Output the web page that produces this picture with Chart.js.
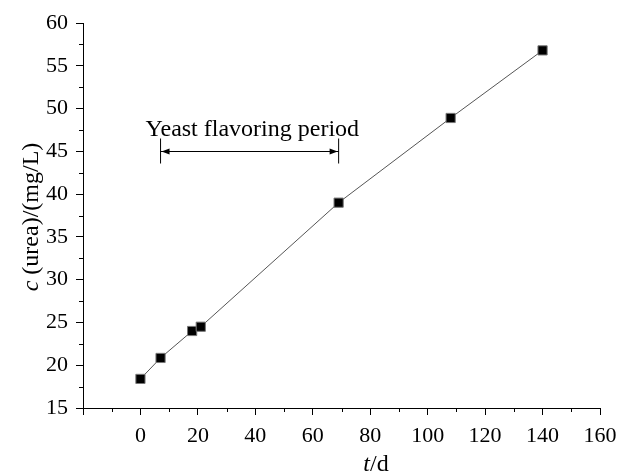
<!DOCTYPE html>
<html>
<head>
<meta charset="utf-8">
<script src="https://cdn.jsdelivr.net/npm/chart.js@4/dist/chart.umd.min.js"></script>
<style>
  html, body { margin: 0; padding: 0; background: #fff; }
  #wrap { width: 622px; height: 476px; }
</style>
</head>
<body>
<div id="wrap"><canvas id="ureaChart"></canvas></div>
<script>
// days and urea concentration (mg/L)
let days = [0, 7, 18, 21, 69, 108, 140];
let urea = [18.4, 20.85, 24.0, 24.5, 39.0, 48.9, 56.8];

let xTicks = [0, 20, 40, 60, 80, 100, 120, 140, 160];
let yTicks = [15, 20, 25, 30, 35, 40, 45, 50, 55, 60];

// flavoring period marker
let periodStart = 7;
let periodEnd = 69;
let periodLevel = 45;
let periodLabel = "Yeast flavoring period";

const FONT = "'Liberation Serif', 'Times New Roman', serif";

// minor ticks + titles + arrow annotation
let extras = {
    id: 'extras',
    afterDraw(chart) {
        let ctx = chart.ctx;
        let xs = chart.scales.x, ys = chart.scales.y;
        let area = chart.chartArea;
        ctx.save();
        ctx.strokeStyle = '#000';
        ctx.lineWidth = 1;
        ctx.beginPath();
        for (let v = -10; v < 160; v += 20) {
            let px = Math.round(xs.getPixelForValue(v)) + 0.5;
            ctx.moveTo(px, area.bottom);
            ctx.lineTo(px, area.bottom + 4);
        }
        for (let v = 17.5; v < 60; v += 5) {
            let py = Math.round(ys.getPixelForValue(v)) + 0.5;
            ctx.moveTo(area.left, py);
            ctx.lineTo(area.left - 4, py);
        }
        ctx.stroke();

        // arrow
        let x1 = xs.getPixelForValue(periodStart);
        let x2 = xs.getPixelForValue(periodEnd);
        let yy = Math.round(ys.getPixelForValue(periodLevel)) + 0.5;
        ctx.beginPath();
        ctx.moveTo(x1, yy - 13); ctx.lineTo(x1, yy + 12);
        ctx.moveTo(x2, yy - 13); ctx.lineTo(x2, yy + 12);
        ctx.moveTo(x1, yy); ctx.lineTo(x2, yy);
        ctx.stroke();
        ctx.fillStyle = '#000';
        ctx.beginPath();
        ctx.moveTo(x1 + 1, yy); ctx.lineTo(x1 + 9, yy - 3); ctx.lineTo(x1 + 9, yy + 3);
        ctx.closePath();
        ctx.moveTo(x2 - 1, yy); ctx.lineTo(x2 - 9, yy - 3); ctx.lineTo(x2 - 9, yy + 3);
        ctx.closePath();
        ctx.fill();

        ctx.font = '24px ' + FONT;
        ctx.textBaseline = 'alphabetic';
        ctx.textAlign = 'left';
        ctx.fillText(periodLabel, x1 - 15, yy - 16);

        // x title: t/d
        ctx.font = 'italic 24px ' + FONT;
        let tW = ctx.measureText('t').width;
        ctx.font = '24px ' + FONT;
        let dW = ctx.measureText('/d').width;
        let sx = 376 - (tW + dW) / 2;
        ctx.font = 'italic 24px ' + FONT;
        ctx.fillText('t', sx, 471);
        ctx.font = '24px ' + FONT;
        ctx.fillText('/d', sx + tW, 471);

        // y title: c (urea)/(mg/L)
        ctx.translate(38, 217);
        ctx.rotate(-Math.PI / 2);
        ctx.font = 'italic 24px ' + FONT;
        let cW = ctx.measureText('c').width;
        ctx.font = '24px ' + FONT;
        let rest = ' (urea)/(mg/L)';
        let rW = ctx.measureText(rest).width;
        let start = -(cW + rW) / 2;
        ctx.font = 'italic 24px ' + FONT;
        ctx.fillText('c', start, 0);
        ctx.font = '24px ' + FONT;
        ctx.fillText(rest, start + cW, 0);
        ctx.restore();
    }
};

let chartData = {
    labels: days,
    datasets: [{
        data: days.map((d, i) => ({x: d, y: urea[i]})),
        borderColor: '#555',
        borderWidth: 1,
        pointStyle: 'rect',
        pointRadius: 6.5,
        pointHoverRadius: 6.5,
        pointBackgroundColor: '#000',
        pointBorderColor: '#777',
        pointBorderWidth: 1,
        tension: 0
    }]
};

let chartOptions = {
    responsive: true,
    maintainAspectRatio: false,
    animation: false,
    events: [],
    layout: { padding: { top: 23, right: 22, left: 0, bottom: 0 } },
    plugins: { legend: { display: false }, tooltip: { enabled: false } },
    scales: {
        x: {
            type: 'linear',
            min: -20,
            max: 160,
            afterBuildTicks: s => { s.ticks = [-20].concat(xTicks).map(v => ({value: v})); },
            afterFit: s => { s.height = 68; s.paddingLeft = 0; s.paddingRight = 0; },
            border: { display: true, color: '#000', width: 1 },
            grid: { display: true, drawOnChartArea: false, drawTicks: true, tickLength: 7, tickColor: '#000' },
            ticks: {
                color: '#000',
                padding: 8,
                font: { family: FONT, size: 22 },
                callback: v => (v < 0 ? '' : v)
            }
        },
        y: {
            type: 'linear',
            min: 15,
            max: 60,
            afterBuildTicks: s => { s.ticks = yTicks.map(v => ({value: v})); },
            afterFit: s => { s.width = 83; s.paddingTop = 0; s.paddingBottom = 0; },
            border: { display: true, color: '#000', width: 1 },
            grid: { display: true, drawOnChartArea: false, drawTicks: true, tickLength: 7, tickColor: '#000' },
            ticks: {
                color: '#000',
                padding: 8,
                font: { family: FONT, size: 22 }
            }
        }
    }
};

new Chart(document.getElementById('ureaChart'), {
    type: 'line',
    data: chartData,
    options: chartOptions,
    plugins: [extras]
});
</script>
</body>
</html>
